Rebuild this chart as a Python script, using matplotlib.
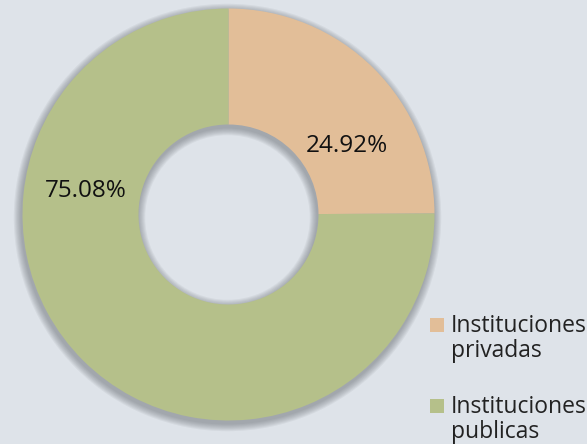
import matplotlib
matplotlib.use("Agg")
import matplotlib.pyplot as plt
from matplotlib.patches import Rectangle, Wedge

categories = ["Instituciones\nprivadas", "Instituciones\npublicas"]
values = [24.92, 75.08]
colors = ["#e2be98", "#b5c08a"]
pct_labels = ["24.92%", "75.08%"]

W, H = 587, 444
fig = plt.figure(figsize=(W / 100, H / 100), dpi=100)
fig.patch.set_facecolor("#dee3e9")

# donut geometry in pixels
cx, cy, R, r_in = 228.5, 214.5, 206.0, 90.0
ax = fig.add_axes([0, 0, 1, 1])
ax.set_facecolor("none")
ax.axis("off")

ring_w = 1 - r_in / R
# soft shadow behind the donut
for k in range(7):
    grow = (7 - k) * 1.1 / R
    ax.add_patch(Wedge((-1 / R, -3 / R), 1.0 + grow, 0, 360, width=ring_w + 2 * grow,
                       facecolor="#5c6066", edgecolor="none", alpha=0.08, zorder=0))

wedges, _ = ax.pie(values, colors=colors, startangle=90, counterclock=False,
                   radius=1.0, wedgeprops=dict(width=ring_w, linewidth=0))

ax.set_xlim(-cx / R, (W - cx) / R)
ax.set_ylim(-(H - cy) / R, cy / R)
ax.set_aspect("equal")

label_pos = [((347 - cx) / R, (cy - 146) / R), ((86 - cx) / R, (cy - 191) / R)]
for txt, (x, y) in zip(pct_labels, label_pos):
    ax.text(x, y, txt, ha="center", va="center", fontsize=17.5, color="#111111",
            family="Open Sans", fontweight="medium")

# legend (square aligned with first text line)
leg_x, leg_text_x = 430, 451
leg_base = [332, 413]
line_step = 25
sq = 14
for lab, col, yb in zip(categories, colors, leg_base):
    fig.patches.append(Rectangle((leg_x / W, 1 - yb / H), sq / W, sq / H,
                                 transform=fig.transFigure, facecolor=col,
                                 edgecolor="none"))
    for i, line in enumerate(lab.split("\n")):
        fig.text(leg_text_x / W, 1 - (yb + i * line_step) / H, line, ha="left",
                 va="baseline", fontsize=16.5, family="Open Sans", color="#222222")

fig.savefig("out.png", dpi=100, facecolor=fig.get_facecolor())
